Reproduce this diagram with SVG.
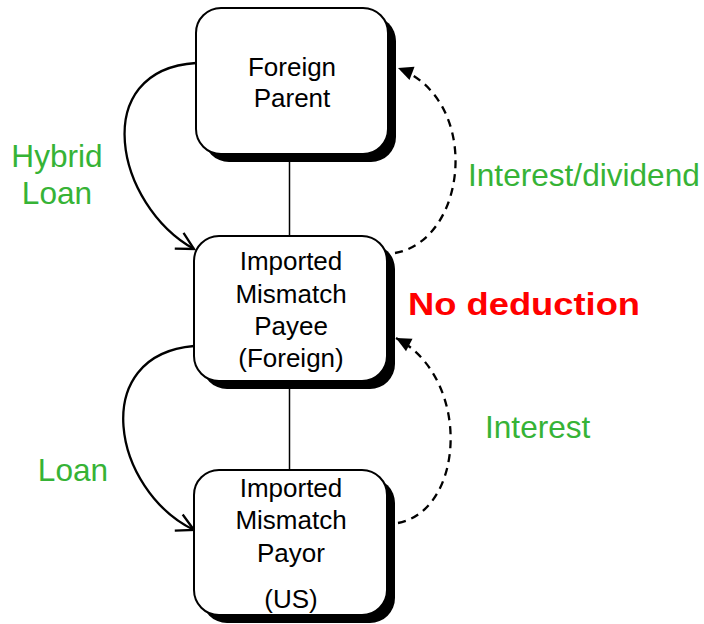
<svg xmlns="http://www.w3.org/2000/svg" width="704" height="624" viewBox="0 0 704 624">
  <style>
    .box { fill: #ffffff; stroke: #000000; stroke-width: 2; }
    .shadow { fill: #000000; }
    .node-text { font-family: "Liberation Sans", Arial, sans-serif; font-size: 26px; fill: #000000; text-anchor: middle; }
    .label { font-family: "Liberation Sans", Arial, sans-serif; font-size: 31.6px; fill: #36b336; }
    .warn { font-family: "Liberation Sans", Arial, sans-serif; font-size: 32px; font-weight: bold; fill: #ff0000; }
    .link { fill: none; stroke: #000000; stroke-width: 1.5; }
    .flow { fill: none; stroke: #000000; stroke-width: 2.3; }
    .dashed { fill: none; stroke: #000000; stroke-width: 2.3; stroke-dasharray: 8 6; }
  </style>
  <defs>
    <marker id="open-arrow" markerUnits="userSpaceOnUse" markerWidth="22" markerHeight="22" refX="17" refY="9" orient="auto" overflow="visible">
      <path d="M0,0 L17,9 L0,18" fill="none" stroke="#000000" stroke-width="2.3"/>
    </marker>
    <marker id="solid-arrow" markerUnits="userSpaceOnUse" markerWidth="18" markerHeight="16" refX="15" refY="7" orient="auto" overflow="visible">
      <path d="M0,0 L15,7 L0,14 Z" fill="#000000"/>
    </marker>
  </defs>

  <!-- structural links between entities -->
  <g id="connectors">
    <line class="link" x1="289.5" y1="154" x2="289.5" y2="236"/>
    <line class="link" x1="289.5" y1="381" x2="289.5" y2="470"/>
    <!-- hybrid loan: parent to payee -->
    <path class="flow" d="M196,63 C88,70 115,205 194,249" marker-end="url(#open-arrow)"/>
    <!-- loan: payee to payor -->
    <path class="flow" d="M194,346 C88,355 112,490 194,530" marker-end="url(#open-arrow)"/>
    <!-- interest/dividend: payee to parent -->
    <path class="dashed" d="M395,253 C468,240 482,100 398,68" marker-end="url(#solid-arrow)"/>
    <!-- interest: payor to payee -->
    <path class="dashed" d="M398,523 C465,510 472,378 396,338" marker-end="url(#solid-arrow)"/>
  </g>

  <g id="foreign-parent">
    <rect class="shadow" x="204" y="16" width="192" height="146" rx="25"/>
    <rect class="box" x="196" y="8" width="192" height="146" rx="25"/>
    <text class="node-text" x="292" y="76">Foreign</text>
    <text class="node-text" x="292" y="107">Parent</text>
  </g>

  <g id="mismatch-payee">
    <rect class="shadow" x="202" y="244" width="193" height="145" rx="25"/>
    <rect class="box" x="194" y="236" width="193" height="145" rx="25"/>
    <text class="node-text" x="291" y="270">Imported</text>
    <text class="node-text" x="291" y="303">Mismatch</text>
    <text class="node-text" x="291" y="335">Payee</text>
    <text class="node-text" x="291" y="367">(Foreign)</text>
  </g>

  <g id="mismatch-payor">
    <rect class="shadow" x="202" y="478" width="193" height="145" rx="25"/>
    <rect class="box" x="194" y="470" width="193" height="145" rx="25"/>
    <text class="node-text" x="291" y="497">Imported</text>
    <text class="node-text" x="291" y="529">Mismatch</text>
    <text class="node-text" x="291" y="562">Payor</text>
    <text class="node-text" x="291" y="608">(US)</text>
  </g>

  <g id="labels">
    <text class="label" x="57" y="167" text-anchor="middle">Hybrid</text>
    <text class="label" x="57" y="204" text-anchor="middle">Loan</text>
    <text class="label" x="468" y="186">Interest/dividend</text>
    <text class="warn" x="408" y="315" textLength="232" lengthAdjust="spacingAndGlyphs">No deduction</text>
    <text class="label" x="73" y="481" text-anchor="middle">Loan</text>
    <text class="label" x="485" y="438">Interest</text>
  </g>
</svg>
